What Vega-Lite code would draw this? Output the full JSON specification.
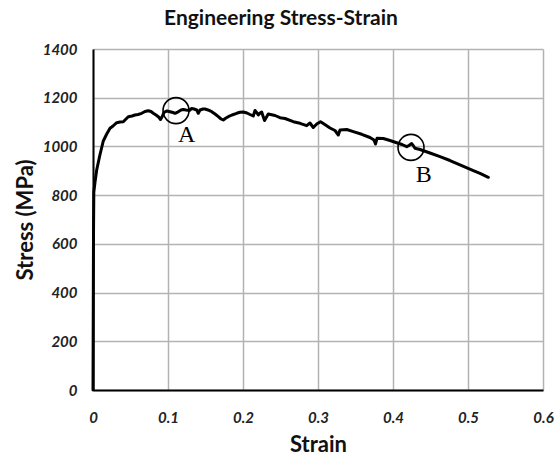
{
  "$schema": "https://vega.github.io/schema/vega-lite/v6.json",
  "width": 450,
  "height": 341,
  "autosize": {"type": "none"},
  "padding": {"left": 93, "top": 49, "right": 15, "bottom": 66},
  "background": "white",
  "title": {
    "text": "Engineering Stress-Strain",
    "font": "Lato",
    "fontSize": 21,
    "fontWeight": "bold",
    "color": "#111",
    "anchor": "middle",
    "dx": -37,
    "offset": 13
  },
  "config": {
    "view": {"stroke": null},
    "axis": {
      "domainColor": "black",
      "domainWidth": 2,
      "ticks": false,
      "gridColor": "#b3b3b3",
      "gridWidth": 1.5,
      "labelFont": "Lato",
      "labelFontWeight": "bold",
      "labelFontStyle": "italic",
      "labelFontSize": 15,
      "labelColor": "#222",
      "titleFont": "Lato",
      "titleFontWeight": "bold",
      "titleFontSize": 22,
      "titleColor": "#111"
    }
  },
  "datasets": {
    "curve": [
      {"strain": 0, "stress": 0},
      {"strain": 0.0004, "stress": 369.5},
      {"strain": 0.0007, "stress": 656.9},
      {"strain": 0.0011, "stress": 812.9},
      {"strain": 0.0027, "stress": 853.9},
      {"strain": 0.0049, "stress": 903.2},
      {"strain": 0.0089, "stress": 960.7},
      {"strain": 0.0137, "stress": 1022.3},
      {"strain": 0.0183, "stress": 1051.0},
      {"strain": 0.0227, "stress": 1074.4},
      {"strain": 0.0267, "stress": 1083.9},
      {"strain": 0.0316, "stress": 1097.4},
      {"strain": 0.036, "stress": 1100.3},
      {"strain": 0.0404, "stress": 1101.5},
      {"strain": 0.044, "stress": 1112.6},
      {"strain": 0.0471, "stress": 1122.1},
      {"strain": 0.052, "stress": 1124.9},
      {"strain": 0.056, "stress": 1129.0},
      {"strain": 0.06, "stress": 1131.1},
      {"strain": 0.0649, "stress": 1136.0},
      {"strain": 0.0693, "stress": 1143.4},
      {"strain": 0.0737, "stress": 1146.7},
      {"strain": 0.0773, "stress": 1143.4},
      {"strain": 0.0804, "stress": 1136.0},
      {"strain": 0.084, "stress": 1129.0},
      {"strain": 0.0871, "stress": 1122.1},
      {"strain": 0.09, "stress": 1110.6},
      {"strain": 0.092, "stress": 1120.8},
      {"strain": 0.0947, "stress": 1140.1},
      {"strain": 0.0987, "stress": 1145.5},
      {"strain": 0.1027, "stress": 1142.6},
      {"strain": 0.1067, "stress": 1139.3},
      {"strain": 0.1093, "stress": 1136.0},
      {"strain": 0.112, "stress": 1139.3},
      {"strain": 0.1137, "stress": 1142.6},
      {"strain": 0.1173, "stress": 1149.6},
      {"strain": 0.1204, "stress": 1151.6},
      {"strain": 0.124, "stress": 1149.6},
      {"strain": 0.1284, "stress": 1147.5},
      {"strain": 0.1316, "stress": 1155.7},
      {"strain": 0.1347, "stress": 1153.7},
      {"strain": 0.1383, "stress": 1149.6},
      {"strain": 0.1404, "stress": 1136.0},
      {"strain": 0.1427, "stress": 1149.6},
      {"strain": 0.1467, "stress": 1153.7},
      {"strain": 0.1493, "stress": 1153.7},
      {"strain": 0.1533, "stress": 1149.6},
      {"strain": 0.1583, "stress": 1142.6},
      {"strain": 0.1627, "stress": 1133.1},
      {"strain": 0.1671, "stress": 1122.1},
      {"strain": 0.1707, "stress": 1112.6},
      {"strain": 0.1737, "stress": 1108.5},
      {"strain": 0.1773, "stress": 1116.7},
      {"strain": 0.1804, "stress": 1122.1},
      {"strain": 0.1853, "stress": 1129.0},
      {"strain": 0.1916, "stress": 1136.0},
      {"strain": 0.196, "stress": 1140.1},
      {"strain": 0.2004, "stress": 1141.4},
      {"strain": 0.2053, "stress": 1137.2},
      {"strain": 0.2093, "stress": 1131.1},
      {"strain": 0.2137, "stress": 1124.9},
      {"strain": 0.216, "stress": 1147.5},
      {"strain": 0.2187, "stress": 1137.2},
      {"strain": 0.2204, "stress": 1129.0},
      {"strain": 0.2227, "stress": 1137.2},
      {"strain": 0.2249, "stress": 1141.3},
      {"strain": 0.2271, "stress": 1120.8},
      {"strain": 0.2287, "stress": 1106.5},
      {"strain": 0.2337, "stress": 1133.1},
      {"strain": 0.2427, "stress": 1127.0},
      {"strain": 0.2493, "stress": 1117.9},
      {"strain": 0.256, "stress": 1114.6},
      {"strain": 0.2671, "stress": 1101.5},
      {"strain": 0.276, "stress": 1095.0},
      {"strain": 0.2849, "stress": 1085.1},
      {"strain": 0.2893, "stress": 1096.2},
      {"strain": 0.2937, "stress": 1077.7},
      {"strain": 0.2983, "stress": 1092.1},
      {"strain": 0.3033, "stress": 1101.5},
      {"strain": 0.3071, "stress": 1094.1},
      {"strain": 0.316, "stress": 1075.7},
      {"strain": 0.3227, "stress": 1065.4},
      {"strain": 0.3271, "stress": 1046.9},
      {"strain": 0.3293, "stress": 1067.5},
      {"strain": 0.3383, "stress": 1069.5},
      {"strain": 0.3471, "stress": 1060.5},
      {"strain": 0.3583, "stress": 1049.8},
      {"strain": 0.3693, "stress": 1036.7},
      {"strain": 0.3747, "stress": 1026.4},
      {"strain": 0.3767, "stress": 1010.0},
      {"strain": 0.3787, "stress": 1033.4},
      {"strain": 0.3871, "stress": 1032.6},
      {"strain": 0.396, "stress": 1024.4},
      {"strain": 0.4049, "stress": 1015.3},
      {"strain": 0.412, "stress": 1007.9},
      {"strain": 0.4183, "stress": 998.9},
      {"strain": 0.4213, "stress": 1003.8},
      {"strain": 0.4249, "stress": 1012.0},
      {"strain": 0.4273, "stress": 1001.8},
      {"strain": 0.4293, "stress": 992.3},
      {"strain": 0.436, "stress": 987.4},
      {"strain": 0.4493, "stress": 973.0},
      {"strain": 0.4627, "stress": 957.8},
      {"strain": 0.476, "stress": 942.2},
      {"strain": 0.4893, "stress": 923.8},
      {"strain": 0.5071, "stress": 900.4},
      {"strain": 0.516, "stress": 888.9},
      {"strain": 0.5271, "stress": 873.3}
    ],
    "points": [
      {"strain": 0.1107, "stress": 1147, "point": "A"},
      {"strain": 0.424, "stress": 996, "point": "B"}
    ],
    "labels": [
      {"strain": 0.125, "stress": 1047, "point": "A"},
      {"strain": 0.441, "stress": 883, "point": "B"}
    ]
  },
  "encoding": {
    "x": {
      "field": "strain",
      "type": "quantitative",
      "scale": {"domain": [0, 0.6], "nice": false, "zero": false},
      "axis": {
        "title": "Strain",
        "values": [0, 0.1, 0.2, 0.3, 0.4, 0.5, 0.6],
        "format": "~g",
        "labelPadding": 20,
        "titlePadding": 9,
        "labelFlush": false
      }
    },
    "y": {
      "field": "stress",
      "type": "quantitative",
      "scale": {"domain": [0, 1400], "nice": false},
      "axis": {
        "title": "Stress (MPa)",
        "values": [0, 200, 400, 600, 800, 1000, 1200, 1400],
        "format": "d",
        "labelPadding": 16,
        "titlePadding": 5
      }
    }
  },
  "layer": [
    {
      "data": {"name": "curve"},
      "mark": {"type": "line", "color": "black", "strokeWidth": 3, "strokeJoin": "round", "strokeCap": "round"}
    },
    {
      "data": {"name": "points"},
      "mark": {"type": "point", "shape": "circle", "filled": false, "size": 676, "stroke": "black", "strokeWidth": 1.6, "opacity": 1}
    },
    {
      "data": {"name": "labels"},
      "mark": {"type": "text", "font": "Liberation Serif", "fontSize": 24, "color": "black", "align": "center", "baseline": "middle"},
      "encoding": {"text": {"field": "point", "type": "nominal"}}
    }
  ]
}
